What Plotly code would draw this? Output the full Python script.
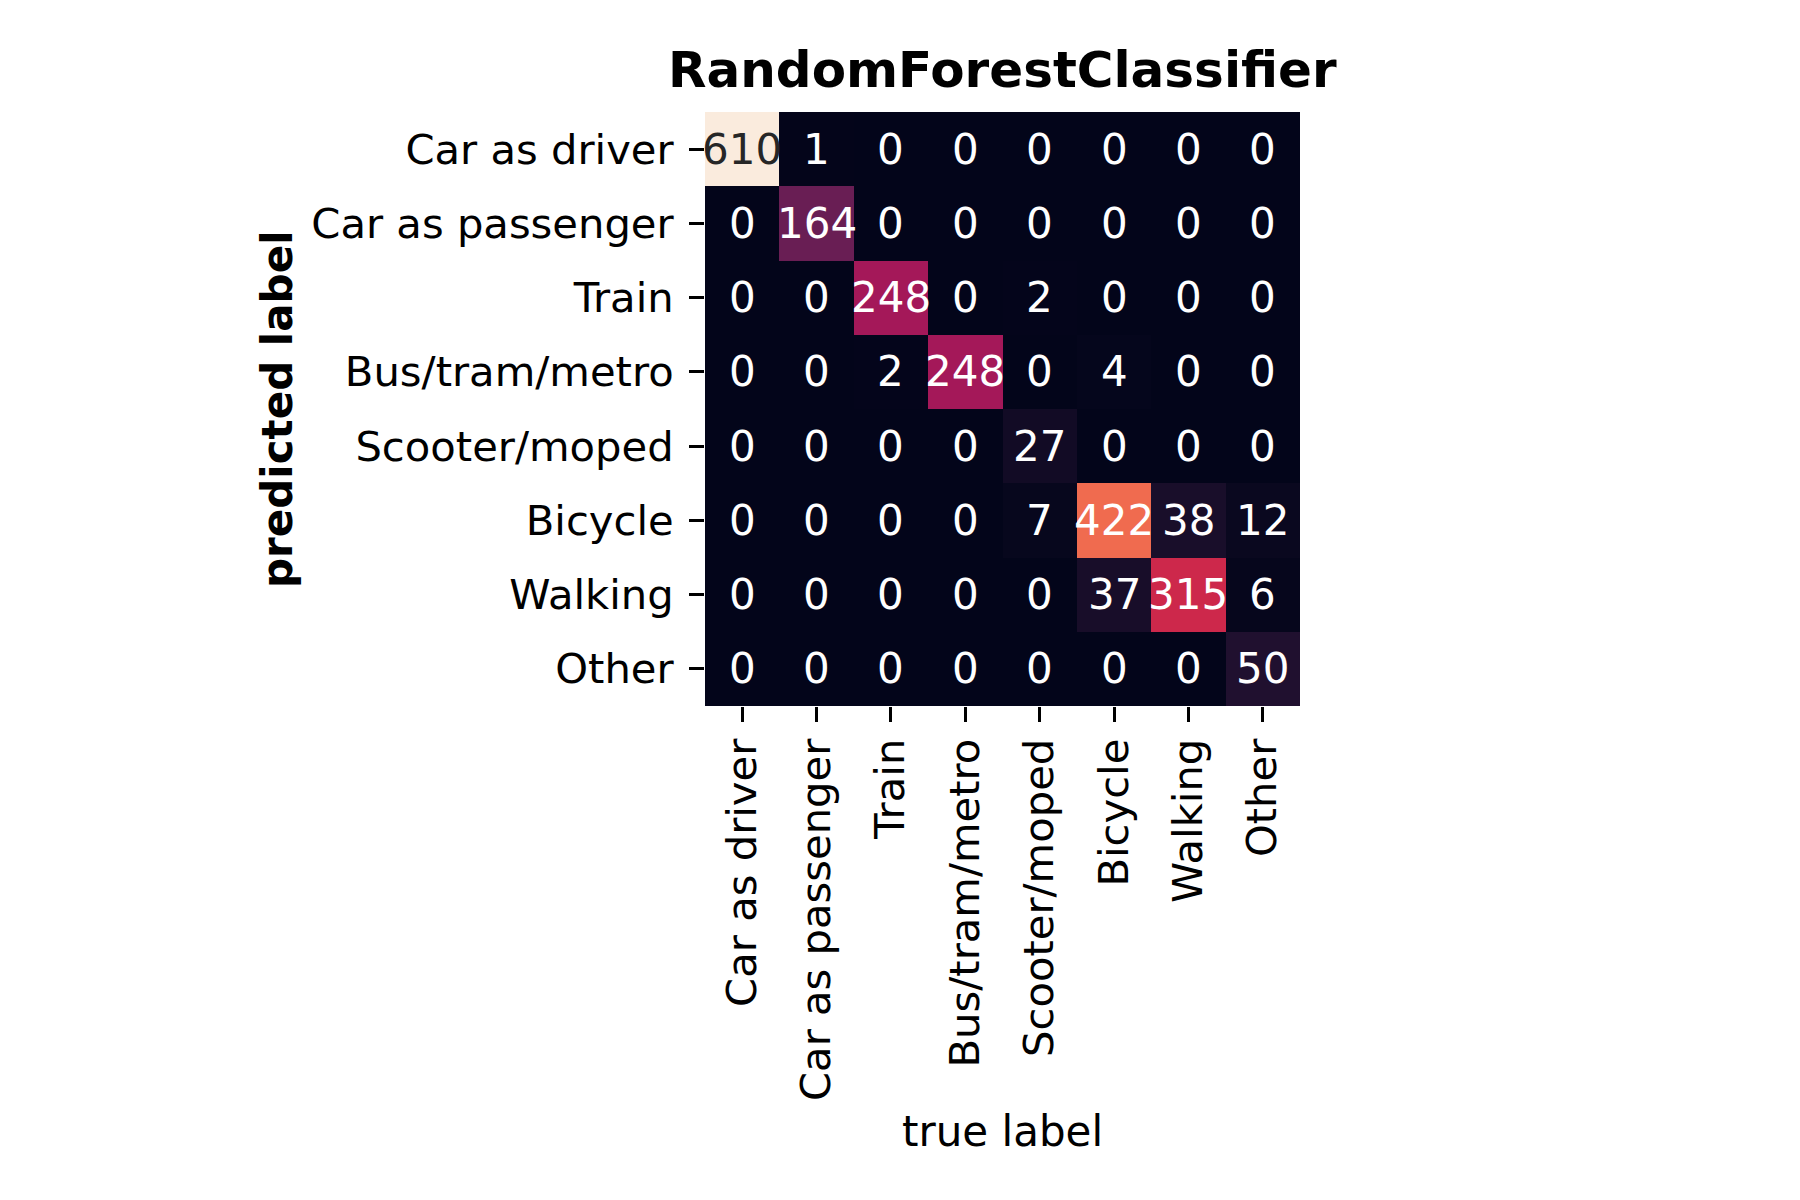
import plotly.graph_objects as go

labels = ["Car as driver", "Car as passenger", "Train", "Bus/tram/metro",
          "Scooter/moped", "Bicycle", "Walking", "Other"]

# rows = predicted label, columns = true label
matrix = [
    [610, 1, 0, 0, 0, 0, 0, 0],
    [0, 164, 0, 0, 0, 0, 0, 0],
    [0, 0, 248, 0, 2, 0, 0, 0],
    [0, 0, 2, 248, 0, 4, 0, 0],
    [0, 0, 0, 0, 27, 0, 0, 0],
    [0, 0, 0, 0, 7, 422, 38, 12],
    [0, 0, 0, 0, 0, 37, 315, 6],
    [0, 0, 0, 0, 0, 0, 0, 50],
]

title = "RandomForestClassifier"
xlabel = "true label"
ylabel = "predicted label"

rocket = [
    [0.0, "#03051a"],
    [1/7, "#35193e"],
    [2/7, "#701f57"],
    [3/7, "#ad1759"],
    [4/7, "#e13342"],
    [5/7, "#f37651"],
    [6/7, "#f6b48f"],
    [1.0, "#faebdd"],
]

zmax = max(max(r) for r in matrix)
FONT = "DejaVu Sans"
n = len(labels)

fig = go.Figure(go.Heatmap(
    z=matrix, x=labels, y=labels, colorscale=rocket, zmin=0, zmax=zmax,
    showscale=False, xgap=0, ygap=0, hoverinfo="skip",
))

annotations = []
for i, row in enumerate(matrix):
    for j, v in enumerate(row):
        color = "#262626" if v / zmax > 0.85 else "white"
        annotations.append(dict(
            x=labels[j], y=labels[i], xref="x", yref="y", text=str(v),
            showarrow=False, font=dict(family=FONT, size=42, color=color),
        ))

L, R, T, B = 705, 500, 112, 494
W, H = 1800, 1200
pw, ph = W - L - R, H - T - B

def px_to_paper_y(py):
    return (H - B - py) / ph

def px_to_paper_x(px):
    return (px - L) / pw

annotations.append(dict(
    x=0.5, y=px_to_paper_y(70), xref="paper", yref="paper", text="<b>%s</b>" % title,
    showarrow=False, xanchor="center", yanchor="middle",
    font=dict(family=FONT, size=50, color="black"),
))
annotations.append(dict(
    x=0.5, y=px_to_paper_y(1131), xref="paper", yref="paper", text=xlabel,
    showarrow=False, xanchor="center", yanchor="middle",
    font=dict(family=FONT, size=42, color="black"),
))
annotations.append(dict(
    x=px_to_paper_x(277), y=0.5, xref="paper", yref="paper", text="<b>%s</b>" % ylabel,
    showarrow=False, xanchor="center", yanchor="middle", textangle=-90,
    font=dict(family=FONT, size=42, color="black"),
))

fig.update_layout(
    width=W, height=H, margin=dict(l=L, r=R, t=T, b=B, pad=0),
    paper_bgcolor="white", plot_bgcolor="white",
    annotations=annotations, showlegend=False,
)
fig.update_xaxes(
    type="category", range=[-0.5, n - 0.5], tickangle=-90, ticks="outside",
    ticklen=15, tickwidth=3, automargin=False,
    tickcolor="black", showline=False, showgrid=False, zeroline=False,
    tickfont=dict(family=FONT, size=41.7, color="black"), ticklabelstandoff=0,
)
fig.update_yaxes(
    type="category", range=[n - 0.5, -0.5], ticks="outside", ticklen=15, tickwidth=3,
    tickcolor="black", showline=False, showgrid=False, zeroline=False, automargin=False,
    tickfont=dict(family=FONT, size=41.7, color="black"), ticklabelstandoff=7,
)

fig.write_html("out.html")
